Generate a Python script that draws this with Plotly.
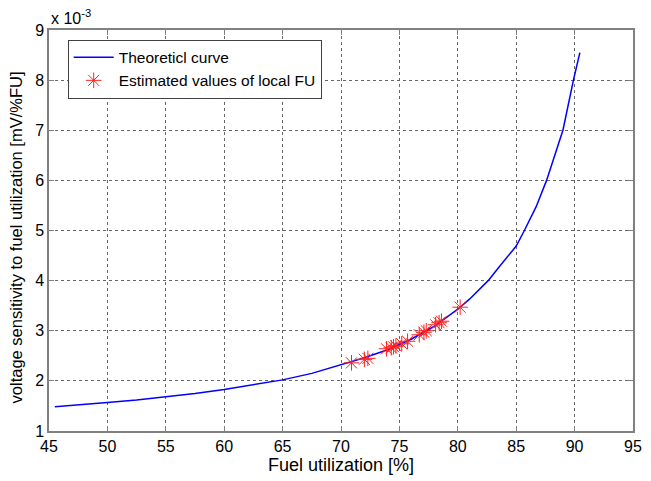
import plotly.graph_objects as go

# Theoretical curve (values in units of 1e-3 mV/%FU)
curve_fu = [45.5, 47, 50, 52.5, 55, 57.5, 60, 62.5, 65, 67.5, 70, 72, 74, 76, 78, 80,
            81, 82, 82.6, 83.5, 84.3, 85, 85.7, 86.7, 87.6, 88.3, 89.0, 89.9, 90.45]
curve_sens = [1.485, 1.51, 1.57, 1.62, 1.68, 1.75, 1.83, 1.92, 2.02, 2.15, 2.32, 2.46, 2.62, 2.83, 3.09, 3.43,
              3.63, 3.86, 4.0, 4.26, 4.48, 4.69, 5.0, 5.47, 6.0, 6.48, 7.0, 8.0, 8.55]

# Estimated values of local FU
est_fu = [70.9, 72.0, 72.3, 73.9, 74.3, 74.5, 74.7, 75.2, 75.7, 76.7, 77.1, 77.3, 78.1, 78.4, 78.6, 80.2]
est_sens = [2.36, 2.43, 2.45, 2.64, 2.66, 2.68, 2.70, 2.74, 2.79, 2.92, 2.97, 3.0, 3.12, 3.16, 3.19, 3.47]

x_ticks = [45, 50, 55, 60, 65, 70, 75, 80, 85, 90, 95]
y_ticks = [1, 2, 3, 4, 5, 6, 7, 8, 9]

font = "Liberation Sans, Arial, sans-serif"

fig = go.Figure()
fig.add_trace(go.Scatter(
    x=curve_fu, y=curve_sens, mode="lines", name="Theoreticl curve",
    line=dict(color="#0000ff", width=1.5),
))
fig.add_trace(go.Scatter(
    x=est_fu, y=est_sens, mode="markers", name="Estimated values of local FU",
    marker=dict(symbol="asterisk-open", size=13, color="#ff2020",
                line=dict(color="#ff2020", width=1)),
))

axis_common = dict(
    showline=True, linecolor="#808080", linewidth=1.5, mirror="allticks",
    ticks="inside", ticklen=5, tickcolor="#808080",
    showgrid=True, gridcolor="#666666", griddash="dot", gridwidth=1,
    zeroline=False, tickfont=dict(size=16, color="black", family=font),
)

fig.update_xaxes(range=[45, 95], tickvals=x_ticks,
                 title=dict(text="Fuel utilization [%]", font=dict(size=18, color="black", family=font), standoff=4),
                 **axis_common)
fig.update_yaxes(range=[1, 9], tickvals=y_ticks, **axis_common)

# y-axis title (placed as annotation to match the reference's vertical offset)
fig.add_annotation(xref="paper", yref="paper", x=-0.057, y=0.482, xanchor="center", yanchor="middle",
                   text="voltage sensitivity to fuel utilization [mV/%FU]", textangle=-90,
                   showarrow=False, font=dict(size=16.5, color="black", family=font))

fig.add_annotation(xref="paper", yref="paper", x=0.0, y=1.0, xanchor="left", yanchor="bottom",
                   text="x 10<sup>-3</sup>", showarrow=False, yshift=1, xshift=0,
                   font=dict(size=16, color="black", family=font))

fig.update_layout(
    width=651, height=481,
    margin=dict(l=49, r=9, t=30, b=46),
    paper_bgcolor="white", plot_bgcolor="white",
    font=dict(family=font, size=15, color="black"),
    legend=dict(x=0.032, y=0.976, xanchor="left", yanchor="top",
                bgcolor="white", bordercolor="#404040", borderwidth=1,
                font=dict(size=15.5, color="black", family=font),
                itemwidth=40, tracegroupgap=0),
    showlegend=True,
)

fig.write_html("out.html")
